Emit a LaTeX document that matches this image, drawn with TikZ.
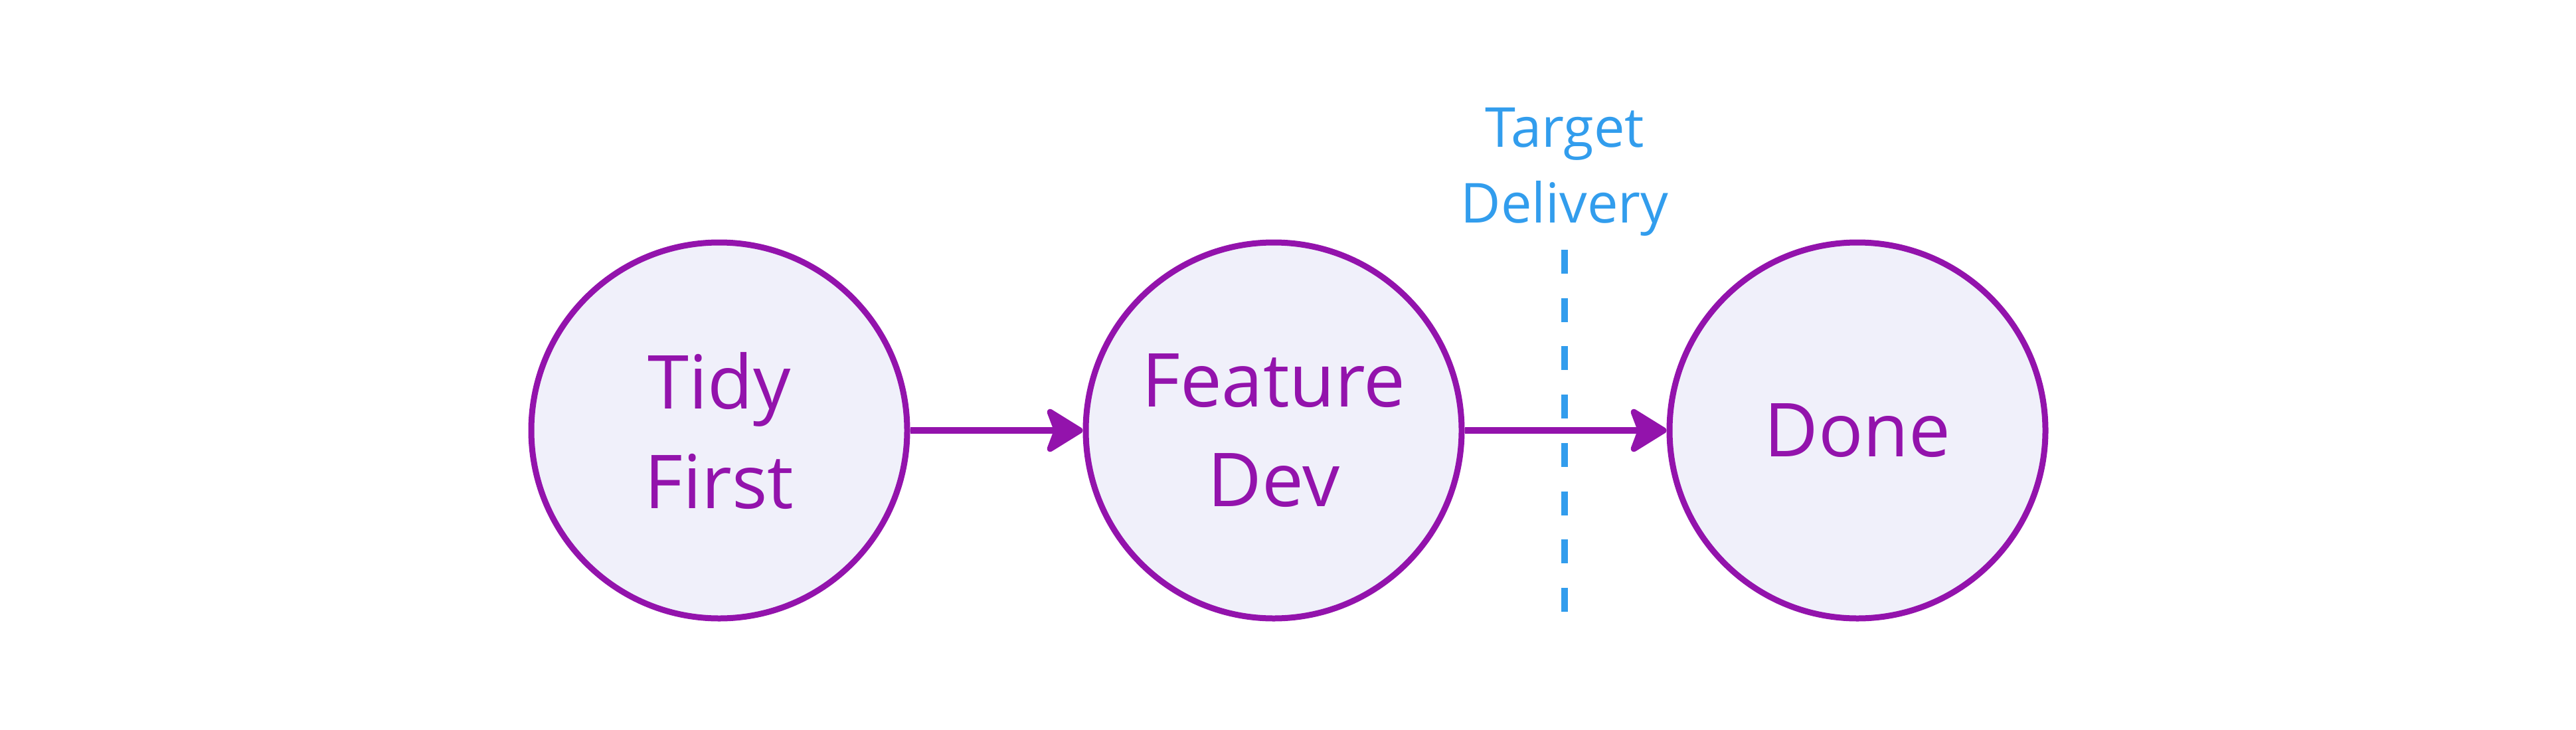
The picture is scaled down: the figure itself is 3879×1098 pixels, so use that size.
\documentclass[tikz,border=0pt]{standalone}
\usepackage{fontspec}
\setmainfont{Open Sans}
\usetikzlibrary{arrows.meta}
\definecolor{nodeline}{RGB}{147,19,172}
\definecolor{nodefill}{RGB}{240,240,250}
\definecolor{markblue}{RGB}{50,157,237}
\begin{document}
\begin{tikzpicture}[x=1pt,y=-1pt,
  stage/.style={circle,draw=nodeline,fill=nodefill,line width=9pt,
    minimum size=566pt,inner sep=0pt,align=center,text=nodeline,
    font=\fontsize{112}{150}\selectfont},
  flow/.style={draw=nodeline,line width=9.3pt,
    -{Stealth[length=62pt,width=76pt,inset=14pt,round]}},
  marker/.style={draw=markblue,line width=9.5pt,dash pattern=on 36pt off 36.7pt},
  markertext/.style={text=markblue,align=center,inner sep=0pt,anchor=north,
    font=\fontsize{83}{114}\selectfont}]
\useasboundingbox (0,0) rectangle (3879,1098);
\node[stage] (tidy) at (1083,648) {Tidy\\First};
\node[stage] (feat) at (1918,648) {Feature\\Dev};
\node[stage] (done) at (2797,648) {Done};
\draw[flow] (tidy) -- (feat);
\draw[flow] (feat) -- (done);
\coordinate (dtop) at (2356,376);
\coordinate (dbot) at (2356,921);
\draw[marker] (dtop) -- (dbot);
\node[markertext] (target) at (2356,162) {Target\\Delivery};
\end{tikzpicture}
\end{document}
